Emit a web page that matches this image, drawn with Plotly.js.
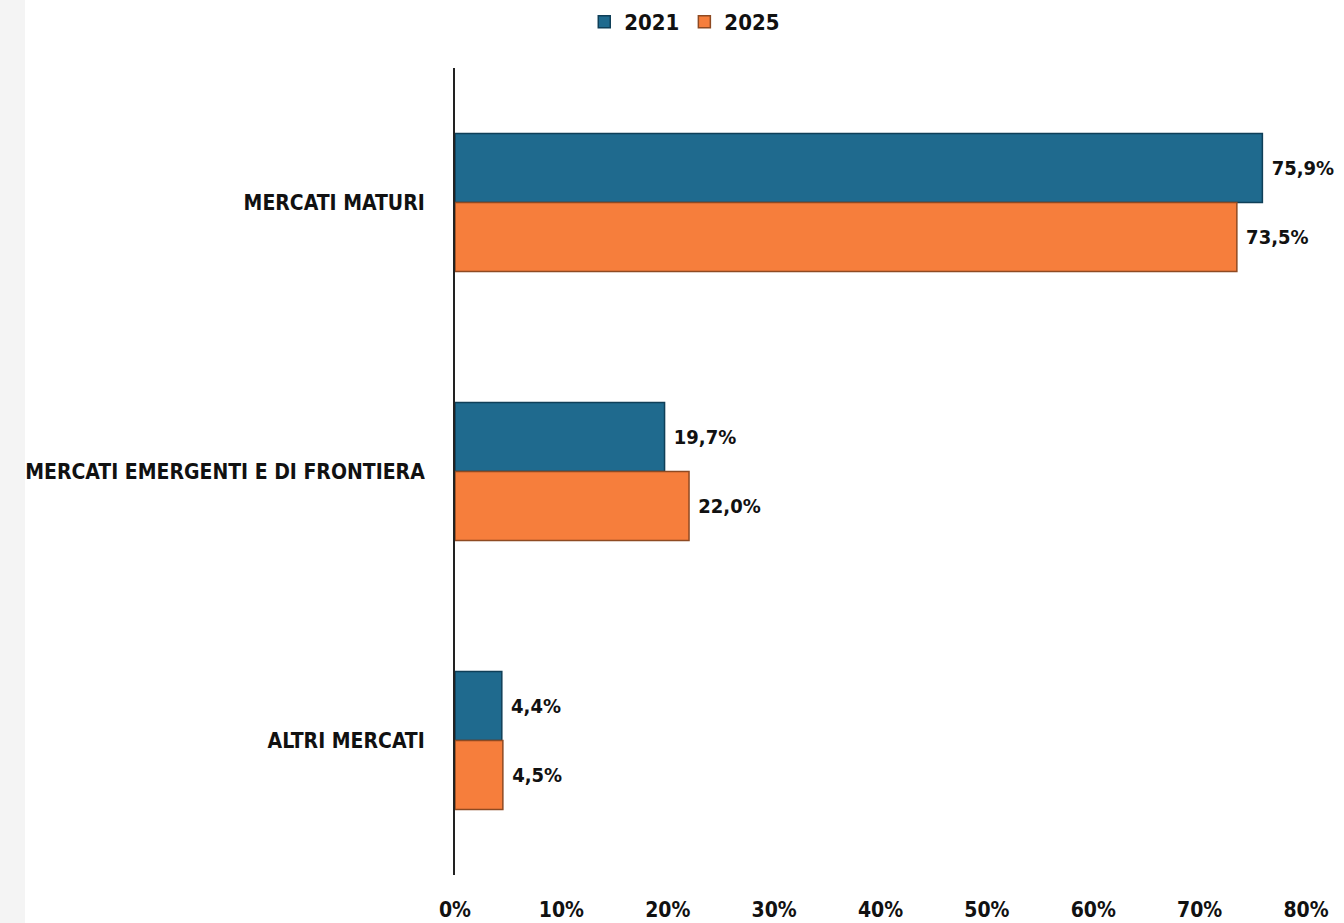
<!DOCTYPE html>
<html>
<head>
<meta charset="utf-8">
<script src="https://cdn.plot.ly/plotly-3.0.1.min.js"></script>
<style>
  html, body { margin: 0; padding: 0; background: #ffffff; }
  #strip { position: absolute; left: 0; top: 0; width: 25px; height: 923px; background: #f4f4f4; }
  #chart { width: 1344px; height: 923px; }
</style>
</head>
<body>
<div id="strip"></div>
<div id="chart"></div>
<script>
const categories = ["MERCATI MATURI", "MERCATI EMERGENTI E DI FRONTIERA", "ALTRI MERCATI"];
const series2021 = [0.759, 0.197, 0.044];
const series2025 = [0.735, 0.220, 0.045];
const seriesNames = ["2021", "2025"];
const tickValues = [0, 0.1, 0.2, 0.3, 0.4, 0.5, 0.6, 0.7, 0.8];

const FONT = "'DejaVu Sans Condensed', 'Liberation Sans Narrow', 'Open Sans', sans-serif";

const traces = [
  {
    type: "bar", orientation: "h", name: seriesNames[0],
    y: categories, x: series2021,
    marker: { color: "#1f6a8e", line: { color: "#0f3f58", width: 1.5 } },
    texttemplate: " %{x:.1%}", textposition: "outside",
    textfont: { family: FONT, size: 20, color: "#111111", weight: "bold" },
    cliponaxis: false, hoverinfo: "skip"
  },
  {
    type: "bar", orientation: "h", name: seriesNames[1],
    y: categories, x: series2025,
    marker: { color: "#f67e3c", line: { color: "#8e4a22", width: 1.5 } },
    texttemplate: " %{x:.1%}", textposition: "outside",
    textfont: { family: FONT, size: 20, color: "#111111", weight: "bold" },
    cliponaxis: false, hoverinfo: "skip"
  }
];

const layout = {
  width: 1344, height: 923,
  margin: { l: 455, r: 38, t: 68, b: 48, autoexpand: false },
  paper_bgcolor: "rgba(0,0,0,0)", plot_bgcolor: "rgba(0,0,0,0)",
  separators: ",.",
  barmode: "group", bargap: 0.487, bargroupgap: 0,
  font: { family: FONT, color: "#111111", weight: "bold" },
  showlegend: true,
  legend: {
    orientation: "h", x: 0.27, xanchor: "center", y: 1.057, yanchor: "middle",
    font: { family: FONT, size: 22, color: "#111111", weight: "bold" },
    itemwidth: 30, traceorder: "normal"
  },
  xaxis: {
    range: [0, 0.8], tickvals: tickValues, tickformat: ".0%",
    showgrid: false, zeroline: false, showline: false,
    ticks: "", ticklabelstandoff: 20,
    tickfont: { family: FONT, size: 21, color: "#111111", weight: "bold" }
  },
  yaxis: {
    autorange: "reversed", type: "category",
    showgrid: false, zeroline: false,
    showline: true, linecolor: "#222222", linewidth: 2,
    ticks: "", ticklabelstandoff: 24,
    tickfont: { family: FONT, size: 21, color: "#111111", weight: "bold" }
  }
};

Plotly.newPlot("chart", traces, layout, { displayModeBar: false, staticPlot: true });
</script>
</body>
</html>
